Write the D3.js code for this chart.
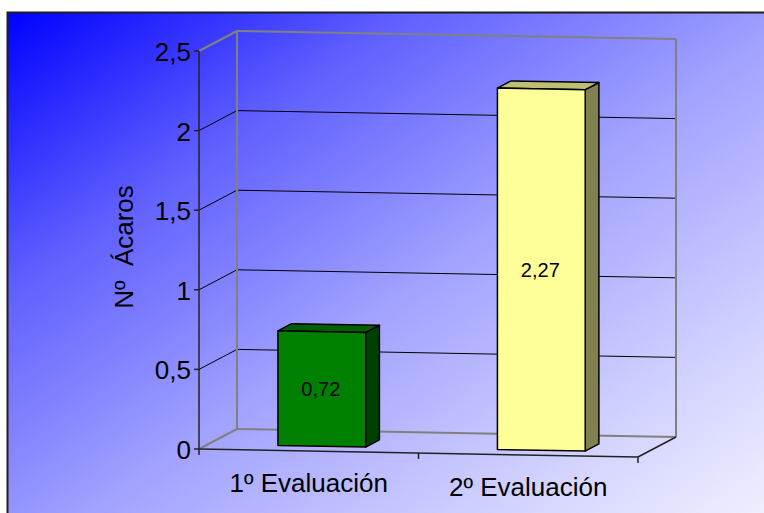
<!DOCTYPE html>
<html>
<head>
<meta charset="utf-8">
<script src="https://cdn.jsdelivr.net/npm/d3@7"></script>
<style>
  html, body { margin: 0; padding: 0; background: #ffffff; }
  svg { display: block; font-family: "Liberation Sans", Arial, sans-serif; }
</style>
</head>
<body>
<svg id="chart" width="764" height="513"></svg>
<script>
// ---- data ----
const categories = ["1º Evaluación", "2º Evaluación"];
const values = [0.72, 2.27];
const valueLabels = ["0,72", "2,27"];
const yTicks = [0, 0.5, 1, 1.5, 2, 2.5];
const yTickLabels = ["0", "0,5", "1", "1,5", "2", "2,5"];
const yTitle = "Nº  Ácaros";
const barFront = ["#008000", "#ffff99"];
const barSide = ["#004000", "#808050"];
const barTop = ["#006000", "#bfbf73"];

// ---- geometry (oblique 3D projection) ----
const svg = d3.select("#chart");
const X0 = 199, Y0 = 449, W = 439, SLOPE = 8; // front floor line
const DX = 38, DY = -20;                        // depth offset
const y = d3.scaleLinear().domain([0, 2.5]).range([0, -398]);
const u = d3.scaleLinear().domain([0, 1]).range([0, 1]);
const band = d3.scaleBand().domain(categories).range([0, 1])
  .paddingInner(0.6).paddingOuter(0.3).align(0.53);

function P(uu, v, d) {
  return [X0 + u(uu) * W + d * DX, Y0 + u(uu) * SLOPE + d * DY + y(v)];
}
const line = d3.line();

// ---- background ----
const defs = svg.append("defs");
const grad = defs.append("linearGradient").attr("id", "bg")
  .attr("x1", 0).attr("y1", 0).attr("x2", 1).attr("y2", 1);
[[0, "#0000ff"], [0.25, "#6060ff"], [0.5, "#a2a2ff"], [0.75, "#d2d2ff"], [1, "#fcfcff"]]
  .forEach(([o, c]) => grad.append("stop").attr("offset", o).attr("stop-color", c));
svg.append("rect").attr("x", 7.5).attr("y", 12.5).attr("width", 800).attr("height", 560)
  .attr("fill", "url(#bg)").attr("stroke", "#1e1e1e").attr("stroke-width", 2);

// ---- walls: gridlines ----
const g = svg.append("g").attr("fill", "none");
yTicks.forEach(v => {
  const edge = (v === 0 || v === 2.5);
  const col = edge ? "#808080" : "#000000";
  const sw = edge ? 2 : 1;
  g.append("path").attr("d", line([P(0, v, 0), P(0, v, 1)]))
    .attr("stroke", col).attr("stroke-width", sw);
  g.append("path").attr("d", line([P(0, v, 1), P(1, v, 1)]))
    .attr("stroke", col).attr("stroke-width", sw);
});
g.append("path").attr("d", line([P(0, 0, 1), P(0, 2.5, 1)])).attr("stroke", "#808080").attr("stroke-width", 2);
g.append("path").attr("d", line([P(1, 0, 1), P(1, 2.5, 1)])).attr("stroke", "#808080").attr("stroke-width", 2);

// ---- bars ----
const D0 = 0.24, D1 = 0.6;
const bars = svg.append("g").attr("stroke", "#000").attr("stroke-width", 1.5).attr("stroke-linejoin", "round");
categories.forEach((c, i) => {
  const a = band(c), b = band(c) + band.bandwidth(), v = values[i];
  bars.append("path").attr("d", line([P(b, 0, D0), P(b, 0, D1), P(b, v, D1), P(b, v, D0)]) + "Z")
    .attr("fill", barSide[i]);
  bars.append("path").attr("d", line([P(a, v, D0), P(a, v, D1), P(b, v, D1), P(b, v, D0)]) + "Z")
    .attr("fill", barTop[i]);
  bars.append("path").attr("d", line([P(a, 0, D0), P(b, 0, D0), P(b, v, D0), P(a, v, D0)]) + "Z")
    .attr("fill", barFront[i]);
  const mid = P((a + b) / 2, v / 2, D0);
  svg.append("text").attr("x", mid[0] - 1).attr("y", mid[1] + 7)
    .attr("text-anchor", "middle").attr("font-size", 20).attr("fill", "#000")
    .text(valueLabels[i]);
});

// ---- front axes ----
const ax = svg.append("g").attr("fill", "none").attr("stroke", "#222").attr("stroke-width", 1.5);
ax.append("path").attr("d", line([P(0, 0, 0), P(0, 2.5, 0)]));
ax.append("path").attr("d", line([P(0, 0, 0), P(1, 0, 0)]));
ax.append("path").attr("d", line([P(1, 0, 0), P(1, 0, 1)]));
yTicks.forEach(v => {
  const p = P(0, v, 0);
  ax.append("path").attr("d", line([[p[0] - 5, p[1]], p]));
});
[0, 0.5, 1].forEach(t => {
  const p = P(t, 0, 0);
  ax.append("path").attr("d", line([p, [p[0], p[1] + 6]]));
});

// ---- tick labels ----
yTicks.forEach((v, i) => {
  const p = P(0, v, 0);
  svg.append("text").attr("x", p[0] - 8).attr("y", p[1] + 10)
    .attr("text-anchor", "end").attr("font-size", 26).attr("fill", "#000")
    .text(yTickLabels[i]);
});
categories.forEach(c => {
  const p = P(band(c) + band.bandwidth() / 2, 0, 0);
  svg.append("text").attr("x", p[0] - 4).attr("y", p[1] + 41)
    .attr("text-anchor", "middle").attr("font-size", 26).attr("fill", "#000")
    .text(c);
});
svg.append("text").attr("transform", "translate(133,247) rotate(-90)")
  .attr("text-anchor", "middle").attr("font-size", 26).attr("fill", "#000")
  .style("white-space", "pre").text(yTitle);
</script>
</body>
</html>
